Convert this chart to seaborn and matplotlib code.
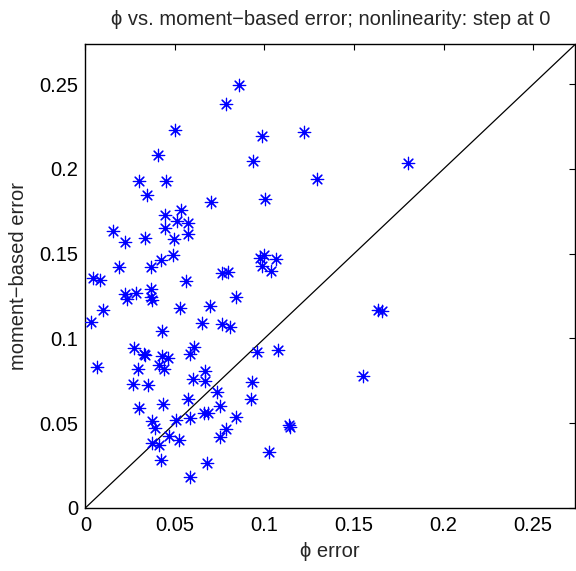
import matplotlib
matplotlib.use("Agg")
import matplotlib.pyplot as plt
import numpy as np
import pandas as pd
import seaborn as sns

# phi error (x) and moment-based error (y) for each trial
phi_error = [
    0.0858, 0.0783, 0.0500, 0.1222, 0.0988, 0.0405, 0.0936, 0.1802, 0.0301, 0.0450,
    0.1295, 0.0344, 0.1003, 0.0701, 0.0534, 0.0444, 0.0509, 0.0573, 0.0444, 0.0155,
    0.0575, 0.0332, 0.0494, 0.0219, 0.0491, 0.0422, 0.0975, 0.0997, 0.1063, 0.0984,
    0.1036, 0.0187, 0.0366, 0.0764, 0.0798, 0.0042, 0.0079, 0.0561, 0.0366, 0.0280,
    0.0221, 0.0843, 0.0364, 0.0234, 0.0370, 0.0694, 0.0526, 0.0099, 0.1636, 0.1655,
    0.0032, 0.0650, 0.0765, 0.0809, 0.0429, 0.0609, 0.0273, 0.1077, 0.0956, 0.0325,
    0.0335, 0.0586, 0.0426, 0.0463, 0.0411, 0.0066, 0.0295, 0.0439, 0.0668, 0.1549,
    0.0601, 0.0670, 0.0928, 0.0264, 0.0351, 0.0736, 0.0571, 0.0925, 0.0435, 0.0751,
    0.0299, 0.0664, 0.0683, 0.0839, 0.0582, 0.0506, 0.0370, 0.1137, 0.1142, 0.0388,
    0.0783, 0.0466, 0.0753, 0.0524, 0.0370, 0.0411, 0.1025, 0.0423, 0.0679, 0.0585,
]
moment_error = [
    0.2493, 0.2382, 0.2230, 0.2220, 0.2193, 0.2083, 0.2045, 0.2035, 0.1931, 0.1931,
    0.1939, 0.1848, 0.1821, 0.1805, 0.1758, 0.1730, 0.1695, 0.1683, 0.1653, 0.1636,
    0.1614, 0.1591, 0.1585, 0.1571, 0.1492, 0.1463, 0.1473, 0.1492, 0.1470, 0.1427,
    0.1400, 0.1423, 0.1420, 0.1388, 0.1391, 0.1357, 0.1345, 0.1341, 0.1290, 0.1268,
    0.1260, 0.1246, 0.1243, 0.1231, 0.1227, 0.1189, 0.1181, 0.1168, 0.1168, 0.1162,
    0.1099, 0.1089, 0.1087, 0.1069, 0.1042, 0.0951, 0.0943, 0.0930, 0.0921, 0.0908,
    0.0900, 0.0907, 0.0897, 0.0887, 0.0843, 0.0829, 0.0818, 0.0818, 0.0809, 0.0778,
    0.0759, 0.0750, 0.0741, 0.0729, 0.0725, 0.0685, 0.0642, 0.0642, 0.0613, 0.0603,
    0.0587, 0.0561, 0.0561, 0.0538, 0.0532, 0.0518, 0.0514, 0.0489, 0.0479, 0.0473,
    0.0465, 0.0424, 0.0416, 0.0400, 0.0381, 0.0371, 0.0328, 0.0282, 0.0263, 0.0184,
]
tick_values = [0, 0.05, 0.1, 0.15, 0.2, 0.25]
tick_labels = ["0", "0.05", "0.1", "0.15", "0.2", "0.25"]
axis_max = 0.2735

df = pd.DataFrame({"phi": phi_error, "moment": moment_error})

sns.set_theme(style="white")
plt.rcParams["font.family"] = ["Liberation Sans", "DejaVu Sans"]
plt.rcParams["font.size"] = 14.5

fig = plt.figure(figsize=(5.76, 5.71), dpi=100)
ax = fig.add_axes([0.1484, 0.1107, 0.850, 0.8114])

# identity reference line y = x
ax.axline((0, 0), slope=1, color="black", linewidth=0.9, zorder=1)

sns.scatterplot(
    data=df, x="phi", y="moment", ax=ax,
    marker=(8, 2, 0), color="#0000ff", s=80, linewidth=0.85, zorder=3,
    legend=False,
)

ax.set_xlim(0, axis_max)
ax.set_ylim(0, axis_max)
ax.set_xticks(tick_values)
ax.set_xticklabels(tick_labels)
ax.set_yticks(tick_values)
ax.set_yticklabels(tick_labels)
ax.tick_params(direction="in", length=4, width=0.8, top=True, right=True,
               labelsize=14.5, colors="black")
ax.tick_params(axis="x", pad=6)
ax.tick_params(axis="y", pad=5)

for sp in ax.spines.values():
    sp.set_visible(True)
    sp.set_color("black")
    sp.set_linewidth(1.0)

ax.set_xlabel("\u03d5 error", fontsize=14.5, labelpad=5)
ax.set_ylabel("moment\u2212based error", fontsize=14.5, labelpad=8)
ax.set_title("\u03d5 vs. moment\u2212based error; nonlinearity: step at 0",
             fontsize=14.5, pad=14)

fig.savefig("out.png", dpi=100, facecolor="white")
